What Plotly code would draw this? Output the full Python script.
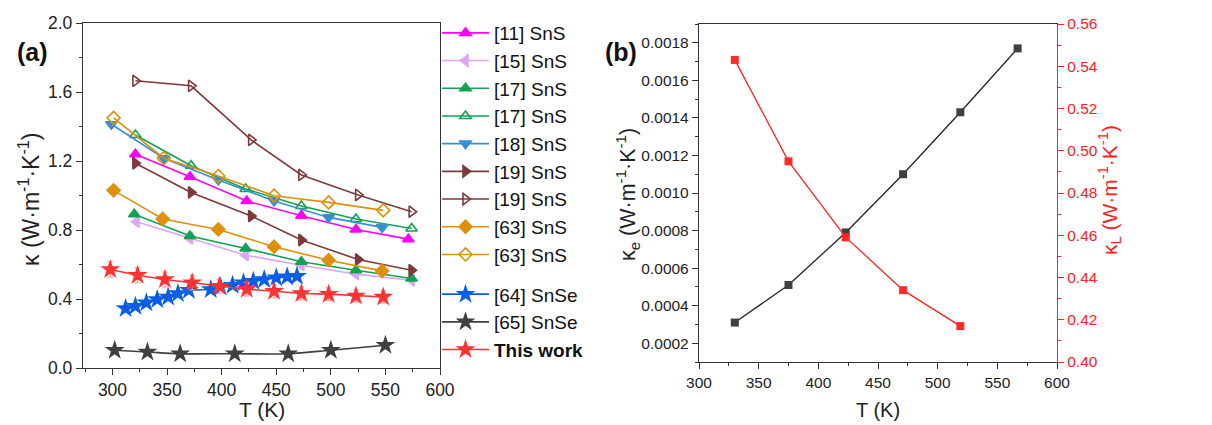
import plotly.graph_objects as go

# ---------------- Panel (a) data ----------------
T_11 = [321, 371, 423, 473, 523, 571]
k_11 = [1.239, 1.109, 0.968, 0.883, 0.803, 0.747]

T_15 = [322, 371, 422, 473, 523, 574]
k_15 = [0.848, 0.751, 0.654, 0.596, 0.544, 0.509]

T_17a = [320, 371, 422, 473, 523, 574]
k_17a = [0.891, 0.765, 0.693, 0.616, 0.567, 0.519]

T_17b = [321, 372, 422, 473, 523, 574]
k_17b = [1.351, 1.173, 1.038, 0.939, 0.864, 0.809]

T_18 = [299, 347, 397, 448, 498, 547]
k_18 = [1.413, 1.216, 1.090, 0.968, 0.873, 0.815]

T_19a = [321, 372, 427, 473, 525, 574]
k_19a = [1.187, 1.018, 0.881, 0.742, 0.629, 0.567]

T_19b = [321, 372, 427, 473, 525, 574]
k_19b = [1.665, 1.636, 1.322, 1.119, 1.003, 0.906]

T_63a = [301, 346, 397, 448, 498, 547]
k_63a = [1.030, 0.864, 0.803, 0.703, 0.625, 0.563]

T_63b = [301, 347, 397, 448, 498, 548]
k_63b = [1.450, 1.216, 1.113, 0.999, 0.960, 0.914]

T_64 = [312, 321, 331, 341, 351, 360, 370, 390, 399, 410, 420, 429, 439, 450, 460, 469]
k_64 = [0.345, 0.358, 0.378, 0.397, 0.412, 0.432, 0.451, 0.455, 0.470, 0.480,
        0.494, 0.503, 0.513, 0.523, 0.529, 0.532]

T_65 = [302, 332, 362, 412, 461, 500, 550]
k_65 = [0.103, 0.093, 0.083, 0.083, 0.083, 0.103, 0.132]

T_tw = [298, 323, 348, 373, 398, 423, 448, 473, 498, 523, 548]
k_tw = [0.571, 0.538, 0.513, 0.494, 0.474, 0.457, 0.445, 0.432, 0.428, 0.418, 0.412]
err_tw = [0.045, 0.044, 0.043, 0.042, 0.041, 0.040, 0.039, 0.038, 0.037, 0.036, 0.035]

# ---------------- Panel (b) data ----------------
T_e = [330, 375, 423, 471, 519, 567]
k_e = [0.00031, 0.00051, 0.00079, 0.00110, 0.00143, 0.00177]
T_L = [330, 375, 423, 471, 519]
k_L = [0.543, 0.495, 0.459, 0.434, 0.417]

FONT = "Arial, 'Liberation Sans', sans-serif"

fig = go.Figure()

series_a = [
    ("[11] SnS", T_11, k_11, "#FF00FF", "triangle-up", "g1"),
    ("[15] SnS", T_15, k_15, "#DDA6F5", "triangle-left", "g1"),
    ("[17] SnS", T_17a, k_17a, "#12A352", "triangle-up", "g1"),
    ("[17] SnS", T_17b, k_17b, "#12A352", "triangle-up-open", "g1"),
    ("[18] SnS", T_18, k_18, "#3A8FD3", "triangle-down", "g1"),
    ("[19] SnS", T_19a, k_19a, "#7E3A3A", "triangle-right", "g1"),
    ("[19] SnS", T_19b, k_19b, "#7E3A3A", "triangle-right-open", "g1"),
    ("[63] SnS", T_63a, k_63a, "#DE900C", "diamond", "g1"),
    ("[63] SnS", T_63b, k_63b, "#DE900C", "diamond-open", "g1"),
]
for name, x, y, c, sym, grp in series_a:
    fig.add_trace(go.Scatter(
        x=x, y=y, name=name, mode="lines+markers", legendgroup=grp,
        line=dict(color=c, width=1.6),
        marker=dict(symbol=sym, size=10, color=c, line=dict(color=c, width=1.6)),
        xaxis="x", yaxis="y"))

fig.add_trace(go.Scatter(
    x=T_64, y=k_64, name="[64] SnSe", mode="lines+markers", legendgroup="g2",
    line=dict(color="#0A5EE6", width=1.6),
    marker=dict(symbol="star", size=15, color="#0A5EE6", line=dict(width=0)),
    xaxis="x", yaxis="y"))
fig.add_trace(go.Scatter(
    x=T_65, y=k_65, name="[65] SnSe", mode="lines+markers", legendgroup="g2",
    line=dict(color="#404040", width=1.6, shape="spline"),
    marker=dict(symbol="star", size=15, color="#404040", line=dict(width=0)),
    xaxis="x", yaxis="y"))
fig.add_trace(go.Scatter(
    x=T_tw, y=k_tw, name="<b>This work</b>", mode="lines+markers", legendgroup="g2",
    line=dict(color="#FF3333", width=1.6),
    marker=dict(symbol="star", size=15, color="#FF3333", line=dict(width=0)),
    error_y=dict(type="data", array=err_tw, color="#FF9A9A", thickness=1, width=3),
    xaxis="x", yaxis="y"))

# panel (b)
fig.add_trace(go.Scatter(
    x=T_e, y=k_e, mode="lines+markers", showlegend=False,
    line=dict(color="#222222", width=1.3),
    marker=dict(symbol="square", size=8, color="#404040", line=dict(width=0)),
    xaxis="x2", yaxis="y2"))
fig.add_trace(go.Scatter(
    x=T_L, y=k_L, mode="lines+markers", showlegend=False,
    line=dict(color="#FF2020", width=1.3),
    marker=dict(symbol="square", size=8, color="#FF2A2A", line=dict(width=0)),
    xaxis="x2", yaxis="y3"))

W, H = 1212, 425
def px(x): return x / W
def py(y): return 1 - y / H

def axstyle(size):
    return dict(showline=True, linecolor="#333333", linewidth=1.3, ticks="outside",
                ticklen=6, tickwidth=1.2, tickcolor="#333333", showgrid=False,
                zeroline=False, tickfont=dict(family=FONT, size=size, color="#222222"),
                automargin=False)

fig.update_layout(
    width=W, height=H,
    margin=dict(l=0, r=0, t=0, b=0, autoexpand=False),
    paper_bgcolor="white", plot_bgcolor="white",
    font=dict(family=FONT, color="#222222"),
    xaxis=dict(domain=[px(83), px(440)], range=[273, 600], dtick=50, tick0=300,
               mirror=True, anchor="y",
               minor=dict(dtick=25, tick0=300, ticklen=3, ticks="outside",
                          tickcolor="#333333"), **axstyle(17.5)),
    yaxis=dict(domain=[py(368), py(23)], range=[0, 2.0], dtick=0.4, tick0=0,
               tickformat=".1f", mirror=True, anchor="x",
               minor=dict(dtick=0.2, ticklen=3, ticks="outside",
                          tickcolor="#333333"), **axstyle(17.5)),
    xaxis2=dict(domain=[px(699), px(1057)], range=[300, 600], dtick=50, tick0=300,
                mirror=True, anchor="y2",
                minor=dict(dtick=25, tick0=300, ticklen=3, ticks="outside",
                           tickcolor="#333333"), **axstyle(15.5)),
    yaxis2=dict(domain=[py(362), py(24)], range=[0.0001, 0.0019], dtick=0.0002,
                tick0=0.0002, tickformat=".4f", anchor="x2",
                minor=dict(dtick=0.0001, tick0=0.0001, ticklen=3, ticks="outside",
                           tickcolor="#333333"), **axstyle(15.5)),
    yaxis3=dict(domain=[py(362), py(24)], range=[0.40, 0.56], dtick=0.02,
                tick0=0.40, tickformat=".2f", anchor="x2", overlaying="y2",
                side="right", showline=True, linecolor="#FF2020", linewidth=1.3,
                ticks="outside", ticklen=6, tickwidth=1.2, tickcolor="#FF2020",
                showgrid=False, zeroline=False, automargin=False,
                tickfont=dict(family=FONT, size=15.5, color="#FF2020"),
                minor=dict(dtick=0.01, ticklen=3, ticks="outside",
                           tickcolor="#FF2020")),
    legend=dict(x=px(437), y=py(14), xanchor="left", yanchor="top",
                traceorder="grouped", tracegroupgap=12, itemwidth=47,
                font=dict(family=FONT, size=19, color="#111111"),
                bgcolor="rgba(0,0,0,0)", borderwidth=0),
)

annotations = [
    dict(text="<b>(a)</b>", x=px(32), y=py(52), font=dict(size=25, color="#111111")),
    dict(text="<b>(b)</b>", x=px(621), y=py(52), font=dict(size=25, color="#111111")),
    dict(text="T (K)", x=px(262), y=py(409), font=dict(size=21, color="#222222")),
    dict(text="T (K)", x=px(878), y=py(410), font=dict(size=20, color="#222222")),
    dict(text="κ (W·m<sup>-1</sup>·K<sup>-1</sup>)", x=px(29), y=py(200),
         textangle=-90, font=dict(size=23, color="#222222")),
    dict(text="κ<sub>e</sub> (W·m<sup>-1</sup>·K<sup>-1</sup>)", x=px(628), y=py(195),
         textangle=-90, font=dict(size=21.5, color="#222222")),
    dict(text="κ<sub>L</sub> (W·m<sup>-1</sup>·K<sup>-1</sup>)", x=px(1110), y=py(190),
         textangle=-90, font=dict(size=21, color="#FF2020")),
]
for a in annotations:
    a.update(xref="paper", yref="paper", showarrow=False, xanchor="center",
             yanchor="middle")
    a["font"]["family"] = FONT
fig.update_layout(annotations=annotations)

fig.write_html("out.html", config={"displayModeBar": False},
               post_script="document.body.style.margin='0px';document.body.style.padding='0px';")
